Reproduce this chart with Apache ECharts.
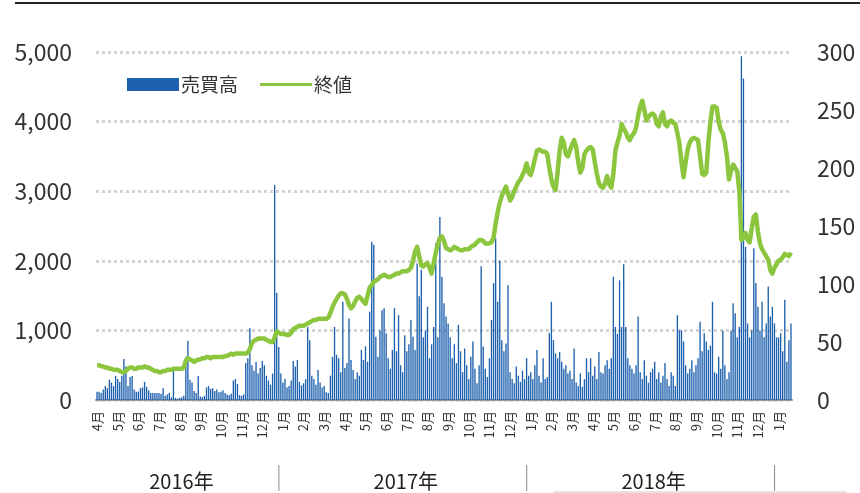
<!DOCTYPE html>
<html>
<head>
<meta charset="utf-8">
<script src="https://cdn.jsdelivr.net/npm/echarts@6/dist/echarts.min.js"></script>
<style>
  html, body { margin: 0; padding: 0; background: #fff; }
  #chart { width: 860px; height: 493px; }
</style>
</head>
<body>
<div id="chart"></div>
<script>
// Month ticks, April 2016 through January 2019 (ten readings per month)
const monthLabels = ['4月','5月','6月','7月','8月','9月','10月','11月','12月',
  '1月','2月','3月','4月','5月','6月','7月','8月','9月','10月','11月','12月',
  '1月','2月','3月','4月','5月','6月','7月','8月','9月','10月','11月','12月',
  '1月'];
const yearLabels = ['2016年', '2017年', '2018年'];
const pointsPerMonth = 10;

// 売買高 (volume)
const volume2016 = [
  120,120,100,150,200,170,290,250,200,345,
  300,260,350,590,480,200,330,345,150,120,
  120,170,180,260,190,140,100,100,100,100,
  100,90,170,60,80,100,40,430,30,20,
  30,40,60,620,850,290,250,130,100,345,
  50,40,60,180,200,160,170,130,150,110,
  120,140,100,80,70,90,280,300,230,70,
  60,80,530,600,1030,500,420,550,380,460,
  560,500,350,280,220,380,3090,1540,760,380
];
const volume2017 = [
  250,300,180,200,280,560,480,575,260,210,
  240,300,1050,860,350,300,220,430,250,180,
  200,110,100,350,620,1050,650,600,400,1410,
  460,530,1170,575,430,300,400,350,720,575,
  770,550,1270,2275,2230,910,620,1000,1290,1320,
  960,600,450,720,1320,700,1220,500,400,930,
  700,800,1150,910,720,1960,1490,1870,900,1000,
  1340,600,800,1050,2250,900,2630,1770,1390,1200,
  1100,900,600,800,530,1080,700,400,740,500,
  300,620,840,450,240,500,1920,770,450,330,
  600,1150,1680,2320,1410,2000,860,700,810,1650,
  400,300,240,480,350,260,420,300,600,350
];
const volume2018 = [
  400,300,500,720,350,250,600,300,330,960,
  1410,860,670,600,690,550,450,500,380,420,
  300,740,250,200,380,190,300,600,400,600,
  350,480,300,690,400,380,500,570,450,600,
  1770,1050,950,1720,1050,1950,1050,600,500,450,
  380,500,1200,400,300,570,350,250,400,450,
  550,300,400,250,350,530,300,200,400,350,
  200,1220,1000,1000,840,500,380,450,570,400,
  500,600,1125,700,960,840,720,780,1410,400,
  380,620,450,1000,500,300,400,1000,1390,1245,
  900,1050,4940,4620,2200,1100,900,1000,2180,1680,
  1340,1000,1410,900,1100,1630,1200,1340,1100,900
];
const volume2019 = [900,960,700,1440,550,860,1100];

// 終値 (closing price)
const price2016 = [
  30,30,29,29,28,28,27,27,26,26,
  26,25,24,24,25,27,28,28,27,27,
  28,28,28,29,28,28,27,26,25,25,
  24,24,25,25,26,26,26,27,27,27,
  27,27,28,34,36,35,34,33,34,35,
  35,36,36,37,37,36,37,37,37,37,
  37,37,38,38,39,40,39,40,40,40,
  40,40,40,41,44,49,51,52,53,53,
  53,53,52,51,50,50,54,59,58,57
];
const price2017 = [
  57,57,56,56,58,61,62,63,64,64,
  64,65,66,67,68,69,69,70,70,70,
  70,70,71,75,80,84,87,90,92,92,
  91,87,82,79,81,85,88,89,87,85,
  83,90,97,99,102,103,104,106,107,108,
  107,106,106,107,108,109,109,110,111,111,
  111,112,114,120,128,132,124,116,115,117,
  118,114,109,118,127,134,140,141,137,131,
  130,129,130,132,131,130,129,129,130,130,
  130,132,133,134,136,138,138,137,135,135,
  135,136,140,152,162,170,176,180,184,178,
  172,175,180,184,188,190,194,198,204,196
];
const price2018 = [
  194,200,208,215,216,215,214,214,212,200,
  190,184,181,196,215,226,222,212,210,215,
  220,224,218,205,196,200,212,215,217,218,
  216,205,195,187,184,183,187,193,186,183,
  195,215,222,228,238,234,231,226,224,228,
  230,235,245,253,258,250,241,244,246,247,
  245,238,236,244,248,238,236,240,241,239,
  238,230,221,205,192,205,216,222,225,226,
  225,224,210,195,194,196,222,240,253,253,
  252,240,233,230,222,210,190,198,203,200,
  197,180,138,140,144,138,136,148,158,160,
  145,135,130,127,124,121,112,109,114,117
];
const price2019 = [120,121,123,126,125,124,127];

const volume = [].concat(volume2016, volume2017, volume2018, volume2019);
const price = [].concat(price2016, price2017, price2018, price2019);

// One category per reading; only the first reading of a month carries its label
const categories = volume.map((_, i) =>
  i % pointsPerMonth === 0 ? monthLabels[i / pointsPerMonth] : '');

const FONT = '"Noto Sans CJK JP", "Noto Sans", sans-serif';
const TEXT = '#333333';
const GREEN = '#8cc63f';

const chart = echarts.init(document.getElementById('chart'), null, { renderer: 'canvas' });

chart.setOption({
  animation: false,
  backgroundColor: '#ffffff',
  textStyle: { fontFamily: FONT },
  grid: { left: 96, right: 68, top: 52, bottom: 93, containLabel: false },
  legend: {
    left: 122,
    top: 70,
    itemWidth: 52,
    itemHeight: 13,
    itemGap: 22,
    symbolKeepAspect: true,
    textStyle: { fontSize: 19, color: TEXT, fontFamily: FONT, padding: [0, 0, 0, -3] },
    data: [
      { name: '売買高', icon: 'rect' },
      { name: '終値', icon: 'path://M0,0 L52,0 L52,3 L0,3 Z', itemStyle: { color: GREEN } }
    ]
  },
  xAxis: {
    type: 'category',
    data: categories,
    boundaryGap: true,
    axisTick: { show: false },
    axisLine: { lineStyle: { color: '#9a9a9a', width: 2 } },
    axisLabel: {
      interval: 0,
      rotate: 90,
      margin: 11,
      fontSize: 13,
      color: TEXT,
      fontFamily: FONT
    },
    splitLine: { show: false }
  },
  yAxis: [
    {
      type: 'value',
      min: 0,
      max: 5000,
      interval: 1000,
      axisLine: { show: false },
      axisTick: { show: false },
      axisLabel: {
        margin: 24,
        fontSize: 23,
        color: TEXT,
        fontFamily: FONT,
        formatter: v => v.toLocaleString('en-US')
      },
      splitLine: {
        lineStyle: { color: '#d3d3d3', width: 3, type: [3, 3] }
      }
    },
    {
      type: 'value',
      min: 0,
      max: 300,
      interval: 50,
      position: 'right',
      axisLine: { show: false },
      axisTick: { show: false },
      axisLabel: { margin: 25, fontSize: 23, color: TEXT, fontFamily: FONT },
      splitLine: { show: false }
    }
  ],
  series: [
    {
      name: '売買高',
      type: 'bar',
      data: volume,
      yAxisIndex: 0,
      barWidth: '65%',
      itemStyle: { color: '#1d60ad' },
      z: 2
    },
    {
      name: '終値',
      type: 'line',
      data: price,
      yAxisIndex: 1,
      symbol: 'none',
      smooth: false,
      lineStyle: { color: GREEN, width: 4.5, join: 'round' },
      itemStyle: { color: GREEN },
      z: 3
    }
  ]
});

// Year bands under the month labels, placed from the category axis
(function drawYears() {
  const px = i => chart.convertToPixel({ xAxisIndex: 0 }, i);
  const band = px(1) - px(0);
  const plotStart = px(0) - band / 2;
  const boundaries = [];
  monthLabels.forEach((m, k) => {
    if (m === '1月') boundaries.push(px(k * pointsPerMonth) - band / 2);
  });
  const edges = [plotStart].concat(boundaries);
  const elements = [
    { type: 'line', shape: { x1: 15, y1: 3, x2: 860, y2: 3 },
      style: { stroke: '#222222', lineWidth: 2 }, silent: true },
    { type: 'line', shape: { x1: 553, y1: 492, x2: 847, y2: 492 },
      style: { stroke: '#c8c8c8', lineWidth: 1 }, silent: true }
  ];
  boundaries.forEach(x => {
    elements.push({ type: 'line', shape: { x1: x - 3, y1: 465, x2: x - 3, y2: 491 },
      style: { stroke: '#8a8a8a', lineWidth: 1 }, silent: true });
  });
  yearLabels.forEach((label, i) => {
    const left = i === 0 ? edges[0] - 15 : edges[i];
    elements.push({
      type: 'text',
      x: (left + edges[i + 1]) / 2,
      y: 481,
      style: { text: label, fill: '#222222', font: '20px ' + FONT,
        align: 'center', verticalAlign: 'middle' },
      silent: true
    });
  });
  chart.setOption({ graphic: elements });
})();
</script>
</body>
</html>
